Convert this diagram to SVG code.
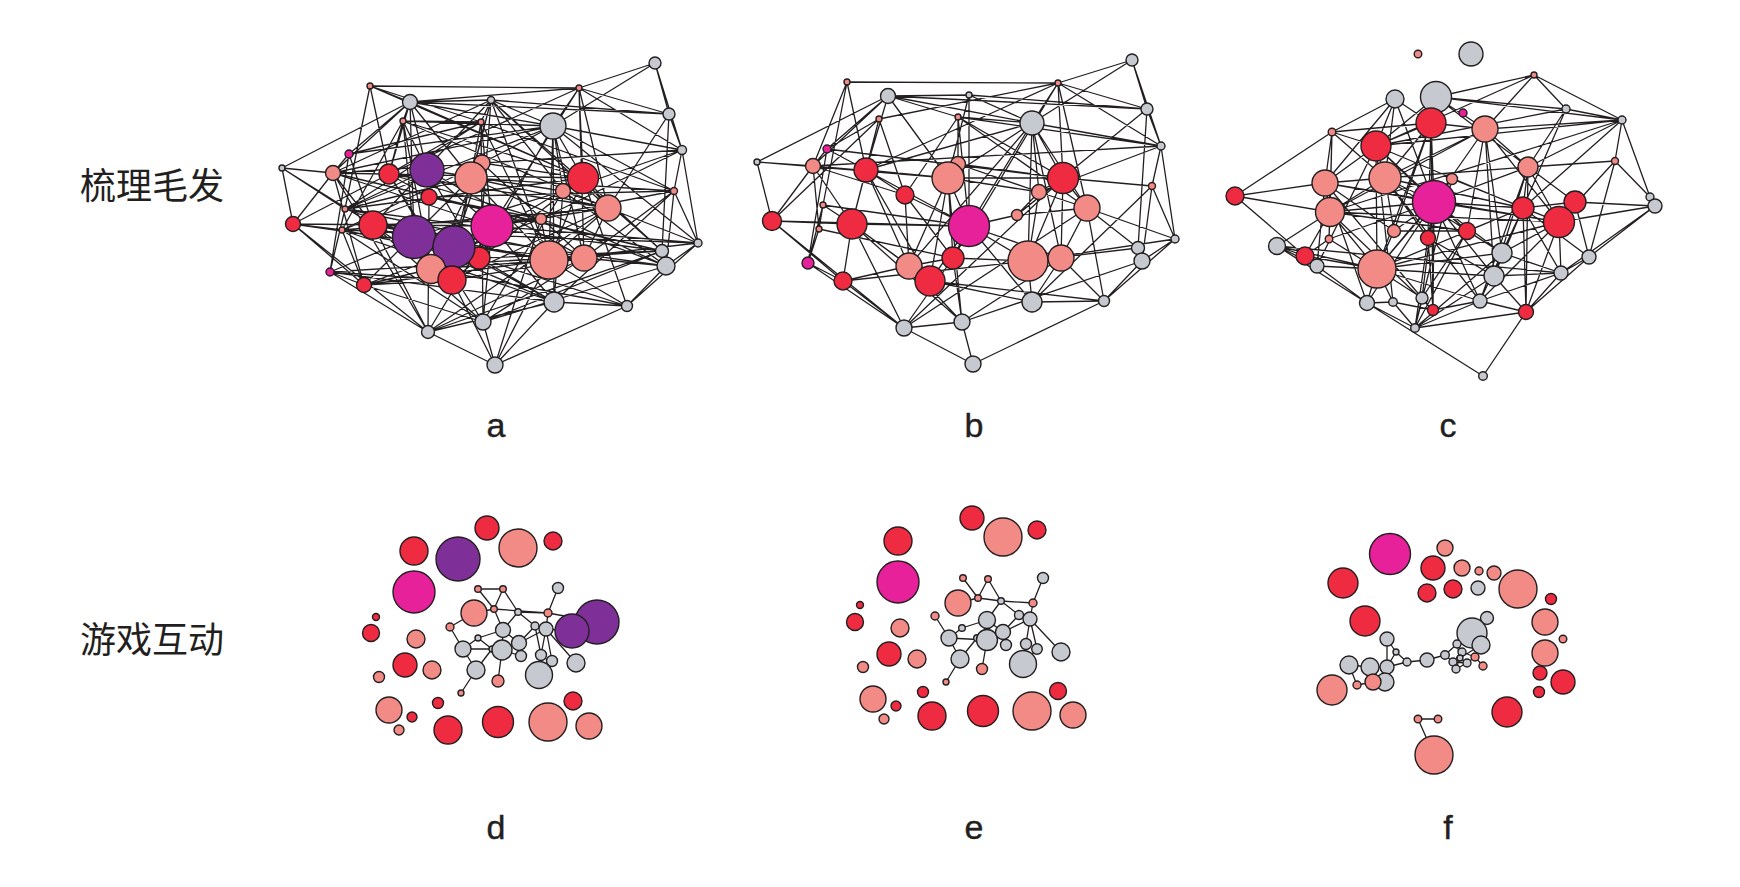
<svg xmlns="http://www.w3.org/2000/svg" width="1740" height="887" viewBox="0 0 1740 887">
<style>
circle{stroke:#231F20;stroke-width:1.4}
.r{fill:#EE2B40}.s{fill:#F28A86}.g{fill:#C6CAD0}.p{fill:#7E2F98}.m{fill:#E6219A}
.e{fill:none;stroke:#231F20;stroke-width:1.3}
.lb{font-family:"Liberation Sans",Arial,sans-serif;font-size:34px;fill:#231F20;text-anchor:middle;stroke:#231F20;stroke-width:0.4}
.zh{font-family:"Noto Sans CJK SC","Noto Sans",sans-serif;font-size:36px;fill:#231F20}
</style>
<rect width="1740" height="887" fill="#fff"/>
<g id="connectors">
<path id="edges-a" class="e" d="M282 168L410 102M282 168L333 173M282 168L293 224M282 168L345 209M282 168L373 225M370 86L579 88M370 86L410 102M370 86L345 209M370 86L389 174M370 86L481 122M370 86L583 178M579 88L655 63M579 88L410 102M579 88L669 114M579 88L682 150M579 88L553 126M579 88L583 178M579 88L608 208M579 88L584 258M579 88L389 174M579 88L492 226M655 63L669 114M655 63L553 126M655 63L682 150M669 114L682 150M669 114L410 102M669 114L608 208M669 114L491 100M669 114L662 251M682 150L698 243M682 150L674 191M682 150L333 173M682 150L482 163M682 150L563 191M682 150L553 126M682 150L541 219M674 191L698 243M674 191L666 266M674 191L554 302M674 191L584 258M674 191L492 226M674 191L471 178M698 243L666 266M698 243L627 306M698 243L492 226M698 243L608 208M698 243L549 260M666 266L627 306M666 266L483 322M666 266L541 219M666 266L373 225M627 306L495 365M627 306L431 269M627 306L554 302M627 306L583 178M627 306L414 237M495 365L428 332M495 365L483 322M495 365L554 302M495 365L541 219M495 365L549 260M495 365L452 280M428 332L293 224M428 332L330 272M428 332L373 225M428 332L333 173M428 332L584 258M428 332L554 302M428 332L608 208M428 332L662 251M428 332L429 197M483 322L373 225M483 322L364 285M483 322L342 230M483 322L563 191M483 322L662 251M483 322L481 122M483 322L389 174M483 322L584 258M483 322L492 226M554 302L330 272M554 302L373 225M554 302L342 230M554 302L553 126M554 302L563 191M554 302L454 247M330 272L364 285M330 272L345 209M330 272L349 154M330 272L414 237M330 272L452 280M330 272L662 251M293 224L333 173M293 224L342 230M293 224L454 247M293 224L492 226M293 224L364 285M349 154L410 102M349 154L481 122M349 154L373 225M349 154L333 173M349 154L553 126M410 102L389 174M410 102L471 178M410 102L414 237M410 102L583 178M410 102L427 170M410 102L403 121M410 102L491 100M410 102L333 173M410 102L553 126M491 100L553 126M491 100L481 122M491 100L471 178M491 100L454 247M491 100L549 260M491 100L479 258M491 100L373 225M491 100L333 173M491 100L662 251M491 100L608 208M491 100L563 191M553 126L403 121M553 126L333 173M553 126L345 209M553 126L563 191M553 126L549 260M553 126L584 258M553 126L482 163M553 126L479 258M553 126L583 178M553 126L674 191M553 126L698 243M403 121L427 170M403 121L414 237M403 121L431 269M403 121L583 178M403 121L608 208M403 121L481 122M403 121L389 174M403 121L342 230M481 122L492 226M481 122L471 178M481 122L452 280M481 122L389 174M481 122L674 191M481 122L345 209M481 122L549 260M333 173L373 225M333 173L583 178M333 173L492 226M333 173L662 251M333 173L364 285M389 174L429 197M389 174L452 280M389 174L608 208M389 174L541 219M389 174L293 224M427 170L492 226M427 170L584 258M427 170L479 258M427 170L563 191M427 170L345 209M482 163L454 247M482 163L431 269M482 163L342 230M482 163L583 178M482 163L584 258M471 178L549 260M471 178L666 266M471 178L345 209M471 178L364 285M471 178L608 208M429 197L662 251M429 197L541 219M429 197L342 230M429 197L674 191M583 178L608 208M583 178L345 209M583 178L431 269M583 178L452 280M583 178L662 251M583 178L549 260M563 191L414 237M563 191L666 266M563 191L608 208M608 208L492 226M608 208L342 230M608 208L452 280M608 208L584 258M608 208L549 260M345 209L662 251M345 209L584 258M345 209L454 247M373 225L452 280M373 225L549 260M373 225L541 219M342 230L479 258M342 230L698 243M342 230L364 285M414 237L549 260M492 226L431 269M492 226L428 332M492 226L541 219M492 226L554 302M541 219L364 285M541 219L549 260M454 247L584 258M479 258L662 251M549 260L364 285M549 260L627 306M584 258L431 269M584 258L666 266M364 285L452 280M452 280L584 258M431 269L364 285M479 258L554 302M666 266L662 251"/>
<path id="edges-b" class="e" d="M847 82L1058 83M847 82L823 205M847 82L813 166M847 82L866 170M1058 83L1132 60M1058 83L1032 123M1058 83L1147 109M1058 83L1161 146M1058 83L1063 178M1058 83L953 258M1058 83L1087 208M1058 83L866 170M1132 60L1147 109M1132 60L1161 146M1132 60L1032 123M1147 109L1161 146M1147 109L1138 248M1147 109L888 96M1147 109L1017 215M1161 146L1175 239M1161 146L1152 186M1161 146L1032 123M1161 146L813 166M1161 146L1039 192M1152 186L1175 239M1152 186L1142 261M1152 186L1032 302M1152 186L1063 178M1175 239L1142 261M1175 239L1087 208M1175 239L1028 261M1175 239L1104 301M1142 261L1104 301M1142 261L962 322M1104 301L973 364M1104 301L1032 302M1104 301L1087 208M1104 301L930 281M973 364L904 328M973 364L962 322M904 328L772 221M904 328L808 263M904 328L962 322M904 328L843 281M904 328L852 224M904 328L953 258M904 328L1087 208M904 328L1063 178M962 322L909 266M962 322L953 258M962 322L1061 258M962 322L948 178M962 322L852 224M757 162L888 96M757 162L813 166M757 162L772 221M757 162L948 178M772 221L813 166M772 221L852 224M772 221L969 226M772 221L843 281M772 221L879 119M808 263L843 281M808 263L823 205M808 263L827 149M808 263L819 229M843 281L852 224M843 281L909 266M843 281L1028 261M888 96L969 95M888 96L1032 123M888 96L948 178M888 96L866 170M888 96L827 149M888 96L813 166M888 96L958 117M969 95L1032 123M969 95L969 226M969 95L948 178M969 95L1147 109M1032 123L866 170M1032 123L958 117M1032 123L1028 261M1032 123L1087 208M1032 123L1063 178M1032 123L1039 192M1032 123L969 226M1032 123L1061 258M1032 123L948 178M1032 123L909 266M879 119L852 224M879 119L905 195M879 119L827 149M879 119L1058 83M958 117L969 226M958 117L958 164M958 117L905 195M958 117L1063 178M958 117L1087 208M958 117L1161 146M827 149L813 166M827 149L866 170M827 149L1063 178M813 166L852 224M813 166L819 229M813 166L948 178M813 166L905 195M866 170L852 224M866 170L905 195M866 170L948 178M866 170L909 266M866 170L930 281M866 170L969 226M958 164L948 178M958 164L1063 178M958 164L1039 192M948 178L969 226M948 178L909 266M948 178L1039 192M948 178L953 258M948 178L930 281M948 178L1063 178M905 195L909 266M905 195L969 226M905 195L953 258M1063 178L1039 192M1063 178L1061 258M1063 178L1028 261M1063 178L1087 208M1063 178L1017 215M1039 192L1017 215M1039 192L1028 261M1039 192L1087 208M1087 208L1061 258M1087 208L1017 215M1087 208L1138 248M823 205L852 224M823 205L819 229M823 205L969 226M852 224L969 226M852 224L909 266M852 224L930 281M819 229L953 258M969 226L1017 215M969 226L1028 261M969 226L953 258M969 226L930 281M969 226L1032 302M969 226L1061 258M909 266L930 281M909 266L953 258M953 258L1028 261M1028 261L1032 302M1028 261L1061 258M1028 261L1138 248M1061 258L1032 302M1061 258L1104 301M1138 248L1142 261M930 281L1032 302"/>
<path id="edges-c" class="e" d="M1235 196L1332 132M1235 196L1330 212M1235 196L1305 256M1235 196L1325 183M1332 132L1395 99M1332 132L1376 146M1332 132L1330 212M1332 132L1329 239M1332 132L1431 123M1332 132L1385 178M1332 132L1325 183M1395 99L1376 146M1395 99L1431 123M1395 99L1385 178M1395 99L1434 202M1395 99L1325 183M1436 97L1534 75M1436 97L1566 109M1436 97L1431 123M1436 97L1622 120M1436 97L1485 129M1436 97L1528 167M1436 97L1376 146M1534 75L1566 109M1534 75L1622 120M1534 75L1485 129M1534 75L1376 146M1566 109L1622 120M1566 109L1528 167M1566 109L1376 146M1566 109L1523 208M1622 120L1615 161M1622 120L1650 197M1622 120L1485 129M1622 120L1523 208M1622 120L1376 146M1622 120L1528 167M1622 120L1330 212M1615 161L1650 197M1615 161L1528 167M1615 161L1559 222M1615 161L1589 257M1650 197L1655 206M1655 206L1559 222M1655 206L1589 257M1655 206L1575 202M1655 206L1561 273M1589 257L1526 312M1589 257L1561 273M1589 257L1523 208M1526 312L1483 376M1526 312L1415 328M1526 312L1480 301M1526 312L1561 273M1526 312L1528 167M1526 312L1523 208M1483 376L1367 303M1367 303L1415 328M1367 303L1277 246M1367 303L1377 269M1367 303L1393 302M1367 303L1434 202M1367 303L1325 183M1415 328L1393 302M1415 328L1422 298M1415 328L1480 301M1415 328L1428 238M1415 328L1502 253M1415 328L1452 179M1277 246L1305 256M1277 246L1317 266M1277 246L1330 212M1277 246L1377 269M1277 246L1561 273M1317 266L1367 303M1317 266L1377 269M1317 266L1325 183M1317 266L1376 146M1431 123L1385 178M1431 123L1434 202M1431 123L1376 146M1431 123L1485 129M1431 123L1428 238M1431 123L1377 269M1431 123L1433 310M1431 123L1394 231M1485 129L1434 202M1485 129L1559 222M1485 129L1528 167M1485 129L1385 178M1485 129L1467 231M1485 129L1502 253M1485 129L1330 212M1485 129L1494 276M1376 146L1385 178M1376 146L1325 183M1376 146L1434 202M1376 146L1523 208M1376 146L1377 269M1376 146L1467 231M1376 146L1393 302M1528 167L1434 202M1528 167L1523 208M1528 167L1559 222M1528 167L1385 178M1528 167L1494 276M1528 167L1480 301M1325 183L1385 178M1325 183L1330 212M1325 183L1434 202M1325 183L1559 222M1325 183L1422 298M1325 183L1394 231M1385 178L1434 202M1385 178L1330 212M1385 178L1394 231M1385 178L1428 238M1385 178L1523 208M1385 178L1502 253M1385 178L1480 301M1452 179L1434 202M1452 179L1377 269M1452 179L1559 222M1434 202L1330 212M1434 202L1559 222M1434 202L1377 269M1434 202L1467 231M1434 202L1523 208M1434 202L1502 253M1434 202L1494 276M1434 202L1394 231M1434 202L1428 238M1434 202L1422 298M1434 202L1480 301M1434 202L1433 310M1434 202L1329 239M1523 208L1559 222M1523 208L1467 231M1523 208L1502 253M1523 208L1494 276M1523 208L1561 273M1523 208L1377 269M1575 202L1559 222M1575 202L1523 208M1575 202L1528 167M1575 202L1589 257M1330 212L1329 239M1330 212L1377 269M1330 212L1467 231M1330 212L1559 222M1330 212L1433 310M1559 222L1561 273M1559 222L1480 301M1559 222L1502 253M1559 222L1526 312M1559 222L1377 269M1394 231L1377 269M1394 231L1467 231M1428 238L1433 310M1428 238L1494 276M1467 231L1502 253M1467 231L1422 298M1467 231L1415 328M1329 239L1377 269M1329 239L1305 256M1305 256L1377 269M1305 256L1330 212M1377 269L1393 302M1377 269L1422 298M1377 269L1502 253M1377 269L1480 301M1377 269L1494 276M1502 253L1494 276M1502 253L1480 301M1502 253L1561 273M1494 276L1526 312M1494 276L1561 273M1494 276L1415 328M1561 273L1480 301M1393 302L1433 310M1422 298L1433 310M1433 310L1480 301"/>
<path id="edges-d" class="e" d="M478 589L503 589M478 589L494 609M503 589L494 609M503 589L518 612M494 609L548 613M518 612L548 613M474 613L494 609M450 627L474 613M450 627L463 649M494 609L503 630M518 612L503 630M518 612L535 626M548 613L558 588M548 613L546 629M548 613L597 622M478 638L503 630M478 638L463 649M478 638L492 649M463 649L492 649M463 649L476 670M492 649L502 650M502 650L503 630M502 650L519 643M502 650L498 681M503 630L519 643M519 643L535 626M519 643L546 629M519 643L521 656M535 626L546 629M535 626L541 655M546 629L541 655M546 629L552 661M546 629L576 663M541 655L539 675M552 661L539 675M476 670L492 649M476 670L461 693M546 629L572 631M521 656L502 650"/>
<path id="edges-e" class="e" d="M963 578L978 598M988 579L978 598M988 579L1001 601M978 598L1001 601M1001 601L1033 603M1033 603L1043 578M1033 603L1030 619M1001 601L987 620M1001 601L1019 615M958 603L978 598M935 616L949 638M962 628L987 620M962 628L949 638M949 638L987 640M949 638L960 659M977 638L987 640M987 620L987 640M987 640L982 669M987 640L1003 632M1003 632L1019 615M1003 632L1030 619M1019 615L1030 619M1003 632L1006 645M987 620L1003 632M1030 619L1026 644M1030 619L1037 649M1030 619L1061 652M1026 644L1023 664M1037 649L1023 664M960 659L946 682M960 659L977 638"/>
<path id="edges-f" class="e" d="M1387 639L1387 667M1387 639L1396 652M1396 652L1407 662M1396 652L1387 667M1407 662L1427 660M1407 662L1387 667M1427 660L1445 655M1445 655L1457 644M1445 655L1453 662M1457 644L1462 652M1462 652L1453 662M1453 662L1467 663M1467 663L1456 669M1462 652L1460 658M1460 658L1467 663M1457 644L1472 633M1460 658L1481 645M1462 652L1475 657M1475 657L1483 666M1467 663L1475 657M1456 669L1460 658M1457 644L1460 658M1453 662L1456 669M1349 665L1370 667M1349 665L1357 685M1357 685L1373 682M1370 667L1387 667M1387 667L1385 682M1370 667L1373 682M1418 719L1438 719M1418 719L1434 755"/>
</g>
<g id="panel-a">
<g id="a1"><circle class="g" cx="655" cy="63" r="6"/></g>
<g id="a2"><circle class="s" cx="370" cy="86" r="3"/></g>
<g id="a3"><circle class="s" cx="579" cy="88" r="3"/></g>
<g id="a4"><circle class="g" cx="410" cy="102" r="7.5"/></g>
<g id="a5"><circle class="g" cx="491" cy="100" r="3.5"/></g>
<g id="a6"><circle class="g" cx="669" cy="114" r="6"/></g>
<g id="a7"><circle class="g" cx="553" cy="126" r="13"/></g>
<g id="a8"><circle class="s" cx="403" cy="121" r="3"/></g>
<g id="a9"><circle class="s" cx="481" cy="122" r="3"/></g>
<g id="a10"><circle class="g" cx="682" cy="150" r="4.5"/></g>
<g id="a11"><circle class="m" cx="349" cy="154" r="4"/></g>
<g id="a12"><circle class="g" cx="282" cy="168" r="3"/></g>
<g id="a13"><circle class="s" cx="333" cy="173" r="7.5"/></g>
<g id="a14"><circle class="r" cx="389" cy="174" r="10"/></g>
<g id="a15"><circle class="p" cx="427" cy="170" r="17"/></g>
<g id="a16"><circle class="s" cx="482" cy="163" r="8"/></g>
<g id="a17"><circle class="s" cx="471" cy="178" r="16"/></g>
<g id="a18"><circle class="r" cx="429" cy="197" r="8"/></g>
<g id="a19"><circle class="r" cx="583" cy="178" r="15.5"/></g>
<g id="a20"><circle class="s" cx="563" cy="191" r="7.5"/></g>
<g id="a21"><circle class="s" cx="674" cy="191" r="3.5"/></g>
<g id="a22"><circle class="s" cx="608" cy="208" r="13"/></g>
<g id="a23"><circle class="r" cx="293" cy="224" r="7.5"/></g>
<g id="a24"><circle class="s" cx="345" cy="209" r="3"/></g>
<g id="a25"><circle class="r" cx="373" cy="225" r="14"/></g>
<g id="a26"><circle class="s" cx="342" cy="230" r="3"/></g>
<g id="a28"><circle class="m" cx="492" cy="226" r="21"/></g>
<g id="a29"><circle class="s" cx="541" cy="219" r="5.5"/></g>
<g id="a31"><circle class="r" cx="479" cy="258" r="11"/></g>
<g id="a27"><circle class="p" cx="414" cy="237" r="21.5"/></g>
<g id="a30"><circle class="p" cx="454" cy="247" r="21"/></g>
<g id="a32"><circle class="s" cx="549" cy="260" r="19"/></g>
<g id="a33"><circle class="s" cx="584" cy="258" r="13"/></g>
<g id="a34"><circle class="g" cx="698" cy="243" r="4"/></g>
<g id="a35"><circle class="g" cx="662" cy="251" r="6.5"/></g>
<g id="a36"><circle class="g" cx="666" cy="266" r="9"/></g>
<g id="a37"><circle class="m" cx="330" cy="272" r="4"/></g>
<g id="a38"><circle class="s" cx="431" cy="269" r="14.5"/></g>
<g id="a39"><circle class="r" cx="364" cy="285" r="7.5"/></g>
<g id="a40"><circle class="r" cx="452" cy="280" r="14"/></g>
<g id="a41"><circle class="g" cx="554" cy="302" r="10"/></g>
<g id="a42"><circle class="g" cx="627" cy="306" r="5.5"/></g>
<g id="a43"><circle class="g" cx="483" cy="322" r="8"/></g>
<g id="a44"><circle class="g" cx="428" cy="332" r="6.5"/></g>
<g id="a45"><circle class="g" cx="495" cy="365" r="8"/></g>
</g>
<g id="panel-b">
<g id="b1"><circle class="g" cx="1132" cy="60" r="6"/></g>
<g id="b2"><circle class="s" cx="847" cy="82" r="3"/></g>
<g id="b3"><circle class="s" cx="1058" cy="83" r="3"/></g>
<g id="b4"><circle class="g" cx="888" cy="96" r="7.5"/></g>
<g id="b5"><circle class="g" cx="969" cy="95" r="3"/></g>
<g id="b6"><circle class="g" cx="1147" cy="109" r="6"/></g>
<g id="b7"><circle class="g" cx="1032" cy="123" r="12"/></g>
<g id="b8"><circle class="s" cx="879" cy="119" r="3"/></g>
<g id="b9"><circle class="s" cx="958" cy="117" r="3"/></g>
<g id="b10"><circle class="g" cx="1161" cy="146" r="4"/></g>
<g id="b11"><circle class="m" cx="827" cy="149" r="4"/></g>
<g id="b12"><circle class="g" cx="757" cy="162" r="3"/></g>
<g id="b13"><circle class="s" cx="813" cy="166" r="7.5"/></g>
<g id="b14"><circle class="r" cx="866" cy="170" r="12"/></g>
<g id="b15"><circle class="s" cx="958" cy="164" r="7.5"/></g>
<g id="b16"><circle class="s" cx="948" cy="178" r="16"/></g>
<g id="b17"><circle class="r" cx="905" cy="195" r="9"/></g>
<g id="b18"><circle class="r" cx="1063" cy="178" r="15.5"/></g>
<g id="b19"><circle class="s" cx="1039" cy="192" r="7.5"/></g>
<g id="b20"><circle class="s" cx="1152" cy="186" r="3.5"/></g>
<g id="b21"><circle class="s" cx="1087" cy="208" r="13"/></g>
<g id="b22"><circle class="r" cx="772" cy="221" r="9.5"/></g>
<g id="b23"><circle class="s" cx="823" cy="205" r="3"/></g>
<g id="b24"><circle class="r" cx="852" cy="224" r="15"/></g>
<g id="b25"><circle class="s" cx="819" cy="229" r="3"/></g>
<g id="b26"><circle class="m" cx="969" cy="226" r="20.5"/></g>
<g id="b27"><circle class="s" cx="1017" cy="215" r="5.5"/></g>
<g id="b28"><circle class="s" cx="909" cy="266" r="13"/></g>
<g id="b29"><circle class="r" cx="953" cy="258" r="11"/></g>
<g id="b30"><circle class="r" cx="930" cy="281" r="15"/></g>
<g id="b31"><circle class="s" cx="1028" cy="261" r="20"/></g>
<g id="b32"><circle class="s" cx="1061" cy="258" r="13"/></g>
<g id="b33"><circle class="g" cx="1175" cy="239" r="4"/></g>
<g id="b34"><circle class="g" cx="1138" cy="248" r="6.5"/></g>
<g id="b35"><circle class="g" cx="1142" cy="261" r="8"/></g>
<g id="b36"><circle class="m" cx="808" cy="263" r="6"/></g>
<g id="b37"><circle class="r" cx="843" cy="281" r="9"/></g>
<g id="b38"><circle class="g" cx="1032" cy="302" r="10"/></g>
<g id="b39"><circle class="g" cx="1104" cy="301" r="5.5"/></g>
<g id="b40"><circle class="g" cx="962" cy="322" r="8"/></g>
<g id="b41"><circle class="g" cx="904" cy="328" r="8"/></g>
<g id="b42"><circle class="g" cx="973" cy="364" r="8"/></g>
</g>
<g id="panel-c">
<g id="c1"><circle class="s" cx="1418" cy="54" r="3.8"/></g>
<g id="c2"><circle class="g" cx="1471" cy="54" r="12"/></g>
<g id="c3"><circle class="s" cx="1534" cy="75" r="3"/></g>
<g id="c4"><circle class="g" cx="1395" cy="99" r="9"/></g>
<g id="c5"><circle class="g" cx="1436" cy="97" r="15.5"/></g>
<g id="c6"><circle class="m" cx="1463" cy="113" r="4"/></g>
<g id="c7"><circle class="g" cx="1566" cy="109" r="4"/></g>
<g id="c8"><circle class="g" cx="1622" cy="120" r="4"/></g>
<g id="c9"><circle class="r" cx="1431" cy="123" r="15"/></g>
<g id="c10"><circle class="s" cx="1485" cy="129" r="13"/></g>
<g id="c11"><circle class="s" cx="1332" cy="132" r="3.8"/></g>
<g id="c12"><circle class="r" cx="1376" cy="146" r="15"/></g>
<g id="c13"><circle class="s" cx="1615" cy="161" r="3.5"/></g>
<g id="c14"><circle class="s" cx="1528" cy="167" r="10"/></g>
<g id="c15"><circle class="s" cx="1325" cy="183" r="13"/></g>
<g id="c16"><circle class="s" cx="1385" cy="178" r="16"/></g>
<g id="c17"><circle class="s" cx="1452" cy="179" r="5.5"/></g>
<g id="c18"><circle class="r" cx="1235" cy="196" r="9"/></g>
<g id="c19"><circle class="m" cx="1434" cy="202" r="21.5"/></g>
<g id="c20"><circle class="r" cx="1523" cy="208" r="11"/></g>
<g id="c21"><circle class="r" cx="1575" cy="202" r="11"/></g>
<g id="c22"><circle class="g" cx="1650" cy="197" r="4"/></g>
<g id="c23"><circle class="g" cx="1655" cy="206" r="7"/></g>
<g id="c24"><circle class="s" cx="1330" cy="212" r="14.5"/></g>
<g id="c25"><circle class="r" cx="1559" cy="222" r="15.5"/></g>
<g id="c26"><circle class="s" cx="1394" cy="231" r="6.5"/></g>
<g id="c27"><circle class="r" cx="1428" cy="238" r="7.5"/></g>
<g id="c28"><circle class="r" cx="1467" cy="231" r="8.5"/></g>
<g id="c29"><circle class="s" cx="1329" cy="239" r="3.8"/></g>
<g id="c30"><circle class="g" cx="1277" cy="246" r="8.5"/></g>
<g id="c31"><circle class="r" cx="1305" cy="256" r="9"/></g>
<g id="c32"><circle class="g" cx="1317" cy="266" r="7"/></g>
<g id="c33"><circle class="s" cx="1377" cy="269" r="19"/></g>
<g id="c34"><circle class="g" cx="1502" cy="253" r="10"/></g>
<g id="c35"><circle class="g" cx="1494" cy="276" r="10"/></g>
<g id="c36"><circle class="g" cx="1589" cy="257" r="7"/></g>
<g id="c37"><circle class="g" cx="1561" cy="273" r="7"/></g>
<g id="c38"><circle class="g" cx="1367" cy="303" r="7.5"/></g>
<g id="c39"><circle class="g" cx="1393" cy="302" r="4.3"/></g>
<g id="c40"><circle class="g" cx="1422" cy="298" r="6"/></g>
<g id="c41"><circle class="r" cx="1433" cy="310" r="5.5"/></g>
<g id="c42"><circle class="g" cx="1480" cy="301" r="7"/></g>
<g id="c43"><circle class="r" cx="1526" cy="312" r="7.5"/></g>
<g id="c44"><circle class="g" cx="1415" cy="328" r="4.3"/></g>
<g id="c45"><circle class="g" cx="1483" cy="376" r="4.3"/></g>
</g>
<g id="panel-d">
<g id="d1"><circle class="r" cx="487" cy="528" r="12"/></g>
<g id="d2"><circle class="r" cx="414" cy="551" r="14"/></g>
<g id="d3"><circle class="p" cx="458" cy="559" r="22"/></g>
<g id="d4"><circle class="s" cx="518" cy="548" r="19"/></g>
<g id="d5"><circle class="r" cx="553" cy="541" r="9"/></g>
<g id="d6"><circle class="m" cx="414" cy="592" r="21"/></g>
<g id="d7"><circle class="g" cx="558" cy="588" r="5.5"/></g>
<g id="d8"><circle class="s" cx="478" cy="589" r="3.3"/></g>
<g id="d9"><circle class="s" cx="503" cy="589" r="3.3"/></g>
<g id="d10"><circle class="s" cx="474" cy="613" r="13"/></g>
<g id="d11"><circle class="s" cx="494" cy="609" r="3.3"/></g>
<g id="d12"><circle class="g" cx="518" cy="612" r="3.3"/></g>
<g id="d13"><circle class="s" cx="548" cy="613" r="4"/></g>
<g id="d14"><circle class="p" cx="597" cy="622" r="22"/></g>
<g id="d15"><circle class="p" cx="572" cy="631" r="17"/></g>
<g id="d16"><circle class="r" cx="376" cy="617" r="3.5"/></g>
<g id="d17"><circle class="r" cx="371" cy="633" r="8.5"/></g>
<g id="d18"><circle class="s" cx="450" cy="627" r="4"/></g>
<g id="d19"><circle class="g" cx="503" cy="630" r="7.5"/></g>
<g id="d20"><circle class="g" cx="535" cy="626" r="4"/></g>
<g id="d21"><circle class="g" cx="546" cy="629" r="7"/></g>
<g id="d22"><circle class="g" cx="478" cy="638" r="3"/></g>
<g id="d23"><circle class="s" cx="416" cy="639" r="9"/></g>
<g id="d24"><circle class="g" cx="463" cy="649" r="8"/></g>
<g id="d25"><circle class="g" cx="492" cy="649" r="3"/></g>
<g id="d26"><circle class="g" cx="502" cy="650" r="10"/></g>
<g id="d27"><circle class="g" cx="519" cy="643" r="7.5"/></g>
<g id="d28"><circle class="g" cx="521" cy="656" r="5.5"/></g>
<g id="d29"><circle class="g" cx="541" cy="655" r="5.5"/></g>
<g id="d30"><circle class="g" cx="552" cy="661" r="5.5"/></g>
<g id="d31"><circle class="g" cx="576" cy="663" r="9"/></g>
<g id="d32"><circle class="r" cx="405" cy="665" r="12"/></g>
<g id="d33"><circle class="s" cx="432" cy="670" r="9"/></g>
<g id="d34"><circle class="g" cx="476" cy="670" r="9"/></g>
<g id="d35"><circle class="g" cx="539" cy="675" r="13.5"/></g>
<g id="d36"><circle class="s" cx="379" cy="677" r="5.5"/></g>
<g id="d37"><circle class="s" cx="498" cy="681" r="6"/></g>
<g id="d38"><circle class="s" cx="461" cy="693" r="3"/></g>
<g id="d39"><circle class="r" cx="573" cy="701" r="9"/></g>
<g id="d40"><circle class="s" cx="389" cy="710" r="13"/></g>
<g id="d41"><circle class="r" cx="438" cy="703" r="5.5"/></g>
<g id="d42"><circle class="r" cx="412" cy="717" r="5"/></g>
<g id="d43"><circle class="s" cx="399" cy="730" r="5"/></g>
<g id="d44"><circle class="r" cx="448" cy="730" r="14"/></g>
<g id="d45"><circle class="r" cx="498" cy="722" r="15.5"/></g>
<g id="d46"><circle class="s" cx="548" cy="722" r="19"/></g>
<g id="d47"><circle class="s" cx="589" cy="726" r="13"/></g>
</g>
<g id="panel-e">
<g id="e1"><circle class="r" cx="972" cy="518" r="12"/></g>
<g id="e2"><circle class="s" cx="1003" cy="537" r="19"/></g>
<g id="e3"><circle class="r" cx="1037" cy="530" r="9"/></g>
<g id="e4"><circle class="r" cx="898" cy="541" r="14"/></g>
<g id="e5"><circle class="m" cx="898" cy="582" r="21"/></g>
<g id="e6"><circle class="g" cx="1043" cy="578" r="5.5"/></g>
<g id="e7"><circle class="s" cx="963" cy="578" r="3.3"/></g>
<g id="e8"><circle class="s" cx="988" cy="579" r="3.3"/></g>
<g id="e9"><circle class="s" cx="958" cy="603" r="13"/></g>
<g id="e10"><circle class="s" cx="978" cy="598" r="3.3"/></g>
<g id="e11"><circle class="g" cx="1001" cy="601" r="3.3"/></g>
<g id="e12"><circle class="s" cx="1033" cy="603" r="4"/></g>
<g id="e13"><circle class="r" cx="860" cy="605" r="3.5"/></g>
<g id="e14"><circle class="r" cx="855" cy="622" r="8.5"/></g>
<g id="e15"><circle class="s" cx="935" cy="616" r="4"/></g>
<g id="e16"><circle class="g" cx="987" cy="620" r="8.5"/></g>
<g id="e17"><circle class="g" cx="1019" cy="615" r="4.5"/></g>
<g id="e18"><circle class="g" cx="1030" cy="619" r="7"/></g>
<g id="e19"><circle class="s" cx="900" cy="628" r="9"/></g>
<g id="e20"><circle class="g" cx="962" cy="628" r="3.3"/></g>
<g id="e21"><circle class="g" cx="949" cy="638" r="8"/></g>
<g id="e22"><circle class="g" cx="977" cy="638" r="3.3"/></g>
<g id="e23"><circle class="g" cx="987" cy="640" r="10.5"/></g>
<g id="e24"><circle class="g" cx="1003" cy="632" r="7.5"/></g>
<g id="e25"><circle class="g" cx="1006" cy="645" r="5.5"/></g>
<g id="e26"><circle class="g" cx="1026" cy="644" r="5.5"/></g>
<g id="e27"><circle class="g" cx="1037" cy="649" r="5.3"/></g>
<g id="e28"><circle class="g" cx="1061" cy="652" r="9"/></g>
<g id="e29"><circle class="r" cx="889" cy="654" r="12"/></g>
<g id="e30"><circle class="s" cx="917" cy="659" r="9"/></g>
<g id="e31"><circle class="g" cx="960" cy="659" r="9"/></g>
<g id="e32"><circle class="g" cx="1023" cy="664" r="13.5"/></g>
<g id="e33"><circle class="s" cx="863" cy="667" r="5.5"/></g>
<g id="e34"><circle class="s" cx="982" cy="669" r="5.5"/></g>
<g id="e35"><circle class="s" cx="946" cy="682" r="3"/></g>
<g id="e36"><circle class="r" cx="1058" cy="691" r="8.5"/></g>
<g id="e37"><circle class="s" cx="873" cy="699" r="13"/></g>
<g id="e38"><circle class="r" cx="923" cy="692" r="5.5"/></g>
<g id="e39"><circle class="r" cx="896" cy="706" r="5"/></g>
<g id="e40"><circle class="s" cx="884" cy="719" r="5"/></g>
<g id="e41"><circle class="r" cx="932" cy="716" r="14"/></g>
<g id="e42"><circle class="r" cx="983" cy="711" r="15.5"/></g>
<g id="e43"><circle class="s" cx="1032" cy="711" r="19"/></g>
<g id="e44"><circle class="s" cx="1073" cy="715" r="13"/></g>
</g>
<g id="panel-f">
<g id="f1"><circle class="m" cx="1390" cy="554" r="20.5"/></g>
<g id="f2"><circle class="s" cx="1445" cy="548" r="8"/></g>
<g id="f3"><circle class="r" cx="1433" cy="568" r="12"/></g>
<g id="f4"><circle class="s" cx="1462" cy="568" r="8"/></g>
<g id="f5"><circle class="s" cx="1479" cy="571" r="4"/></g>
<g id="f6"><circle class="s" cx="1494" cy="573" r="7"/></g>
<g id="f7"><circle class="r" cx="1343" cy="583" r="15"/></g>
<g id="f8"><circle class="r" cx="1427" cy="593" r="9"/></g>
<g id="f9"><circle class="r" cx="1453" cy="589" r="9"/></g>
<g id="f10"><circle class="g" cx="1478" cy="588" r="7"/></g>
<g id="f11"><circle class="s" cx="1518" cy="589" r="19"/></g>
<g id="f12"><circle class="r" cx="1551" cy="599" r="5.5"/></g>
<g id="f13"><circle class="r" cx="1365" cy="621" r="15"/></g>
<g id="f14"><circle class="g" cx="1487" cy="618" r="6.5"/></g>
<g id="f15"><circle class="g" cx="1472" cy="633" r="15"/></g>
<g id="f16"><circle class="s" cx="1545" cy="622" r="13"/></g>
<g id="f17"><circle class="g" cx="1481" cy="645" r="9"/></g>
<g id="f18"><circle class="s" cx="1563" cy="639" r="3.8"/></g>
<g id="f19"><circle class="g" cx="1387" cy="639" r="7"/></g>
<g id="f20"><circle class="g" cx="1396" cy="652" r="3"/></g>
<g id="f21"><circle class="s" cx="1545" cy="653" r="13"/></g>
<g id="f22"><circle class="g" cx="1407" cy="662" r="4"/></g>
<g id="f23"><circle class="g" cx="1427" cy="660" r="7"/></g>
<g id="f24"><circle class="g" cx="1445" cy="655" r="4.3"/></g>
<g id="f25"><circle class="g" cx="1457" cy="644" r="4"/></g>
<g id="f26"><circle class="g" cx="1462" cy="652" r="4"/></g>
<g id="f27"><circle class="g" cx="1453" cy="662" r="4"/></g>
<g id="f28"><circle class="g" cx="1467" cy="663" r="4"/></g>
<g id="f29"><circle class="g" cx="1456" cy="669" r="4"/></g>
<g id="f30"><circle class="g" cx="1460" cy="658" r="3"/></g>
<g id="f31"><circle class="s" cx="1475" cy="657" r="4"/></g>
<g id="f32"><circle class="s" cx="1483" cy="666" r="4"/></g>
<g id="f33"><circle class="g" cx="1349" cy="665" r="9"/></g>
<g id="f34"><circle class="g" cx="1370" cy="667" r="9"/></g>
<g id="f35"><circle class="g" cx="1387" cy="667" r="7"/></g>
<g id="f36"><circle class="g" cx="1385" cy="682" r="9"/></g>
<g id="f37"><circle class="s" cx="1373" cy="682" r="8"/></g>
<g id="f38"><circle class="s" cx="1357" cy="685" r="4"/></g>
<g id="f39"><circle class="s" cx="1332" cy="690" r="15"/></g>
<g id="f40"><circle class="r" cx="1540" cy="673" r="7"/></g>
<g id="f41"><circle class="r" cx="1563" cy="682" r="12"/></g>
<g id="f42"><circle class="r" cx="1539" cy="692" r="5.5"/></g>
<g id="f43"><circle class="r" cx="1507" cy="712" r="15"/></g>
<g id="f44"><circle class="s" cx="1418" cy="719" r="3.8"/></g>
<g id="f45"><circle class="s" cx="1438" cy="719" r="3.8"/></g>
<g id="f46"><circle class="s" cx="1434" cy="755" r="19"/></g>
</g>
<g id="labels">
<text class="zh" x="80" y="199">梳理毛发</text>
<text class="zh" x="80" y="653">游戏互动</text>
<text class="lb" x="496" y="437">a</text>
<text class="lb" x="974" y="437">b</text>
<text class="lb" x="1448" y="437">c</text>
<text class="lb" x="496" y="839">d</text>
<text class="lb" x="974" y="839">e</text>
<text class="lb" x="1448" y="839">f</text>
</g>
</svg>
